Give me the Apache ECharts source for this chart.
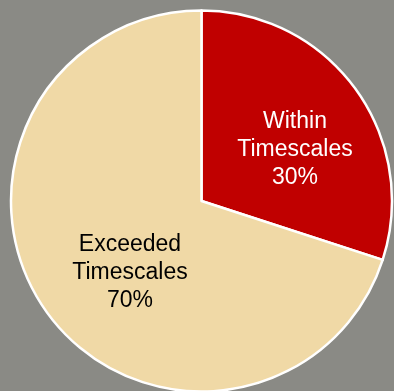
<!DOCTYPE html>
<html>
<head>
<meta charset="utf-8">
<script src="https://cdn.jsdelivr.net/npm/echarts@6/dist/echarts.min.js"></script>
<style>
  html, body { margin: 0; padding: 0; background: #8a8a85; }
  #chart { width: 394px; height: 391px; }
</style>
</head>
<body>
<div id="chart"></div>
<script>
// pie data
const categories = ["Within\nTimescales", "Exceeded\nTimescales"];
const values = [30, 70];
const colors = ["#c00000", "#f0d9a6"];
const labelColors = ["#ffffff", "#000000"];
const labelOffsets = [[14, 6], [8, 14]];

const chart = echarts.init(document.getElementById("chart"));

chart.setOption({
  backgroundColor: "#8a8a85",
  animation: false,
  series: [
    {
      type: "pie",
      center: [201.5, 201],
      radius: [0, 190.5],
      startAngle: 90,
      clockwise: true,
      itemStyle: {
        borderColor: "#ffffff",
        borderWidth: 2.5,
      },
      label: {
        position: "inside",
        fontFamily: "Liberation Sans, Arial, sans-serif",
        fontSize: 23,
        lineHeight: 28,
        align: "center",
        formatter: (p) => p.name + "\n" + p.value + "%",
      },
      labelLine: { show: false },
      emphasis: { disabled: true },
      data: categories.map((name, i) => ({
        name: name,
        value: values[i],
        itemStyle: { color: colors[i] },
        label: { color: labelColors[i], offset: labelOffsets[i] },
      })),
    },
  ],
});
</script>
</body>
</html>
